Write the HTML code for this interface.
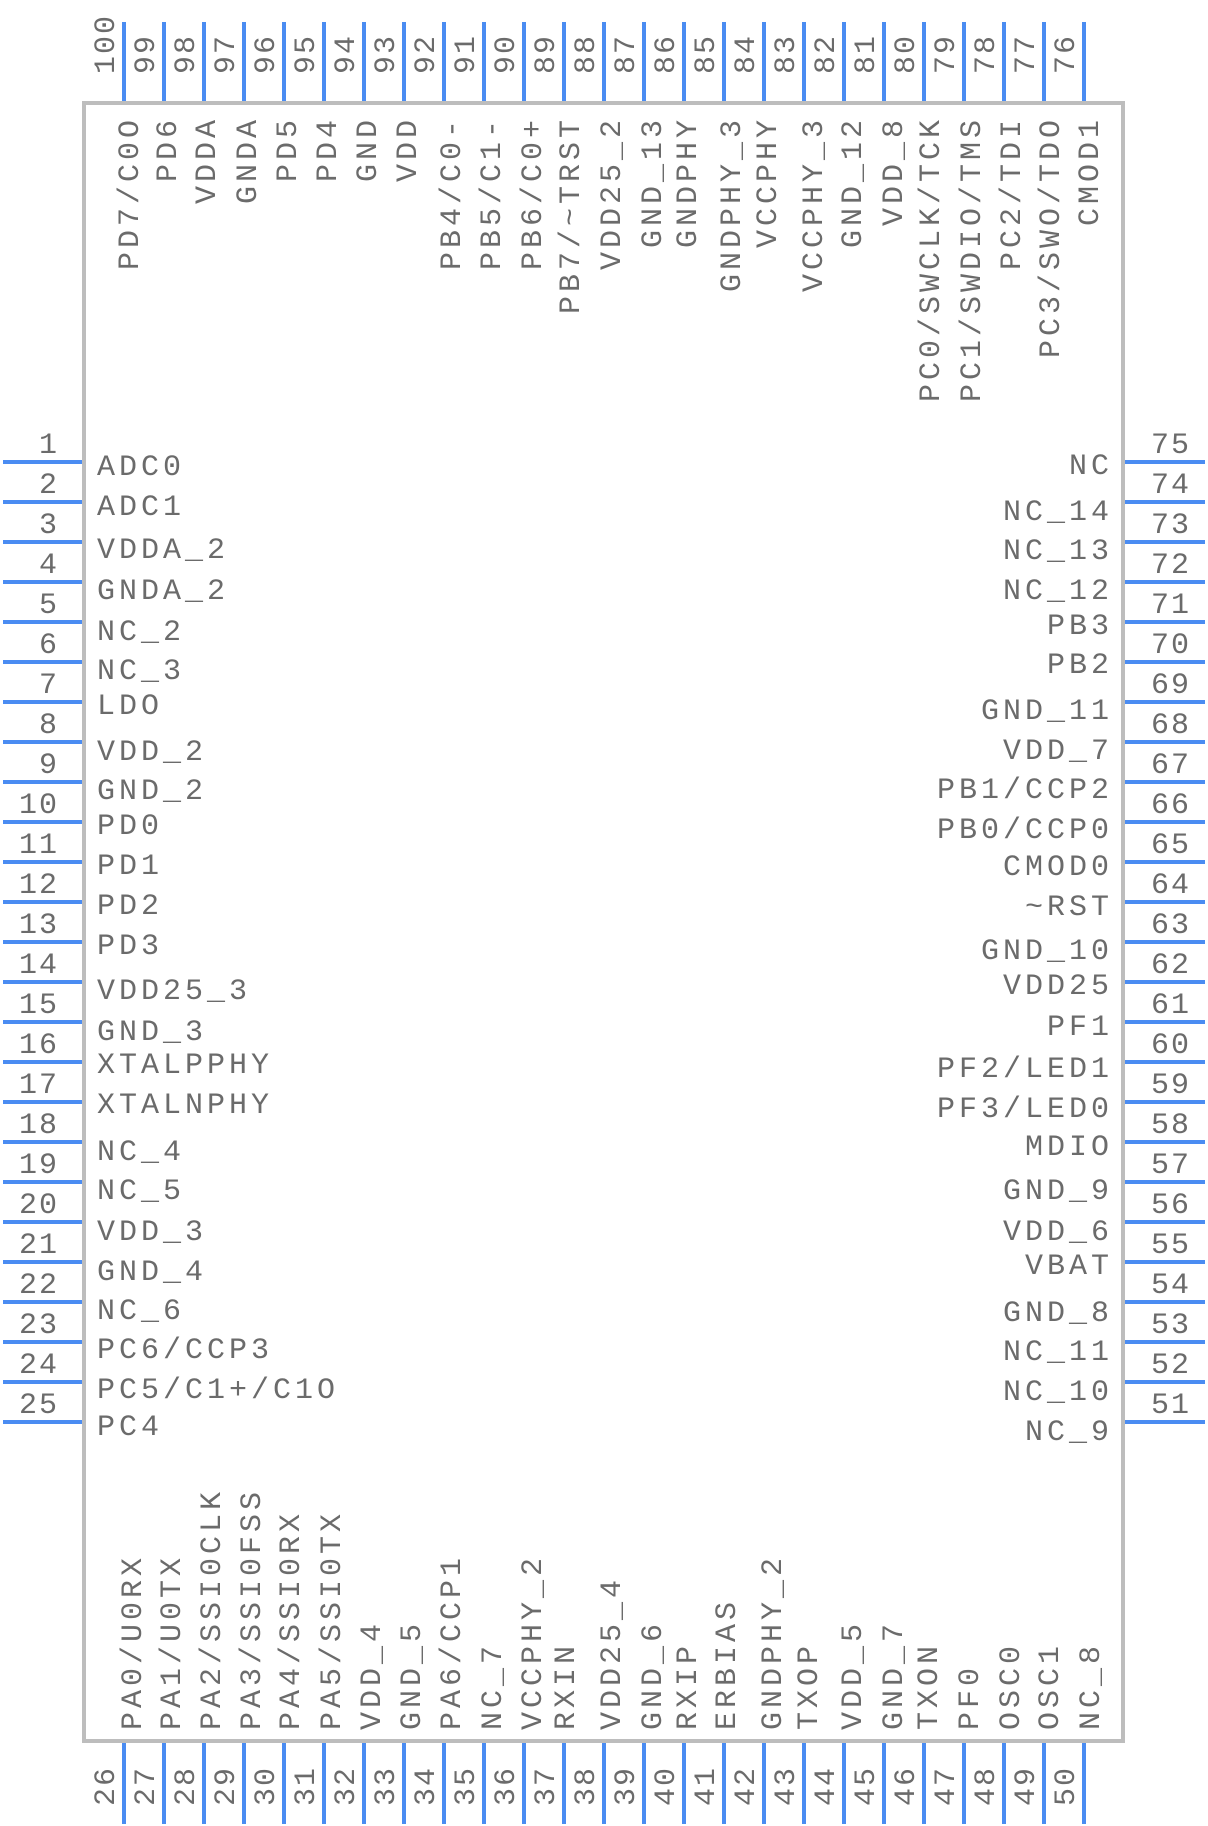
<!DOCTYPE html>
<html><head><meta charset="utf-8"><style>
html,body{margin:0;padding:0;background:#fff;}
svg{display:block}
text{font-family:"Liberation Mono",monospace;fill:#6b6b6b;font-size:30px;letter-spacing:4px}
.n{letter-spacing:2px}
</style></head><body>
<svg width="1208" height="1826" viewBox="0 0 1208 1826" xmlns="http://www.w3.org/2000/svg">
<g stroke="#4a8cf2" stroke-width="4">
<!-- top pins -->
<path d="M124 22V102M164 22V102M204 22V102M244 22V102M284 22V102M324 22V102M364 22V102M404 22V102M444 22V102M484 22V102M524 22V102M564 22V102M604 22V102M644 22V102M684 22V102M724 22V102M764 22V102M804 22V102M844 22V102M884 22V102M924 22V102M964 22V102M1004 22V102M1044 22V102M1084 22V102"/>
<!-- bottom pins -->
<path d="M124 1742V1824M164 1742V1824M204 1742V1824M244 1742V1824M284 1742V1824M324 1742V1824M364 1742V1824M404 1742V1824M444 1742V1824M484 1742V1824M524 1742V1824M564 1742V1824M604 1742V1824M644 1742V1824M684 1742V1824M724 1742V1824M764 1742V1824M804 1742V1824M844 1742V1824M884 1742V1824M924 1742V1824M964 1742V1824M1004 1742V1824M1044 1742V1824M1084 1742V1824"/>
<!-- left pins -->
<path d="M3 462H83M3 502H83M3 542H83M3 582H83M3 622H83M3 662H83M3 702H83M3 742H83M3 782H83M3 822H83M3 862H83M3 902H83M3 942H83M3 982H83M3 1022H83M3 1062H83M3 1102H83M3 1142H83M3 1182H83M3 1222H83M3 1262H83M3 1302H83M3 1342H83M3 1382H83M3 1422H83"/>
<!-- right pins -->
<path d="M1124 462H1205M1124 502H1205M1124 542H1205M1124 582H1205M1124 622H1205M1124 662H1205M1124 702H1205M1124 742H1205M1124 782H1205M1124 822H1205M1124 862H1205M1124 902H1205M1124 942H1205M1124 982H1205M1124 1022H1205M1124 1062H1205M1124 1102H1205M1124 1142H1205M1124 1182H1205M1124 1222H1205M1124 1262H1205M1124 1302H1205M1124 1342H1205M1124 1382H1205M1124 1422H1205"/>
</g>
<rect x="84" y="103" width="1039" height="1638" fill="none" stroke="#bdbdbd" stroke-width="4"/>

<!-- left numbers -->
<g class="n" text-anchor="middle">
<text class="n" x="49" y="453">1</text><text class="n" x="49" y="493">2</text><text class="n" x="49" y="533">3</text><text class="n" x="49" y="573">4</text><text class="n" x="49" y="613">5</text><text class="n" x="49" y="653">6</text><text class="n" x="49" y="693">7</text><text class="n" x="49" y="733">8</text><text class="n" x="49" y="773">9</text><text class="n" x="39" y="813">10</text><text class="n" x="39" y="853">11</text><text class="n" x="39" y="893">12</text><text class="n" x="39" y="933">13</text><text class="n" x="39" y="973">14</text><text class="n" x="39" y="1013">15</text><text class="n" x="39" y="1053">16</text><text class="n" x="39" y="1093">17</text><text class="n" x="39" y="1133">18</text><text class="n" x="39" y="1173">19</text><text class="n" x="39" y="1213">20</text><text class="n" x="39" y="1253">21</text><text class="n" x="39" y="1293">22</text><text class="n" x="39" y="1333">23</text><text class="n" x="39" y="1373">24</text><text class="n" x="39" y="1413">25</text>
</g>
<!-- right numbers -->
<g>
<text class="n" x="1151" y="453">75</text><text class="n" x="1151" y="493">74</text><text class="n" x="1151" y="533">73</text><text class="n" x="1151" y="573">72</text><text class="n" x="1151" y="613">71</text><text class="n" x="1151" y="653">70</text><text class="n" x="1151" y="693">69</text><text class="n" x="1151" y="733">68</text><text class="n" x="1151" y="773">67</text><text class="n" x="1151" y="813">66</text><text class="n" x="1151" y="853">65</text><text class="n" x="1151" y="893">64</text><text class="n" x="1151" y="933">63</text><text class="n" x="1151" y="973">62</text><text class="n" x="1151" y="1013">61</text><text class="n" x="1151" y="1053">60</text><text class="n" x="1151" y="1093">59</text><text class="n" x="1151" y="1133">58</text><text class="n" x="1151" y="1173">57</text><text class="n" x="1151" y="1213">56</text><text class="n" x="1151" y="1253">55</text><text class="n" x="1151" y="1293">54</text><text class="n" x="1151" y="1333">53</text><text class="n" x="1151" y="1373">52</text><text class="n" x="1151" y="1413">51</text>
</g>
<!-- left labels -->
<g>
<text x="97" y="475">ADC0</text><text x="97" y="515">ADC1</text><text x="97" y="558">VDDA_2</text><text x="97" y="599">GNDA_2</text><text x="97" y="640">NC_2</text><text x="97" y="679">NC_3</text><text x="97" y="714">LDO</text><text x="97" y="760">VDD_2</text><text x="97" y="799">GND_2</text><text x="97" y="834">PD0</text><text x="97" y="874">PD1</text><text x="97" y="914">PD2</text><text x="97" y="954">PD3</text><text x="97" y="999">VDD25_3</text><text x="97" y="1040">GND_3</text><text x="97" y="1073">XTALPPHY</text><text x="97" y="1113">XTALNPHY</text><text x="97" y="1160">NC_4</text><text x="97" y="1199">NC_5</text><text x="97" y="1240">VDD_3</text><text x="97" y="1280">GND_4</text><text x="97" y="1319">NC_6</text><text x="97" y="1358">PC6/CCP3</text><text x="97" y="1398">PC5/C1+/C1O</text><text x="97" y="1435">PC4</text>
</g>
<!-- right labels -->
<g text-anchor="end">
<text x="1113" y="474">NC</text><text x="1113" y="520">NC_14</text><text x="1113" y="559">NC_13</text><text x="1113" y="599">NC_12</text><text x="1113" y="634">PB3</text><text x="1113" y="673">PB2</text><text x="1113" y="719">GND_11</text><text x="1113" y="759">VDD_7</text><text x="1113" y="798">PB1/CCP2</text><text x="1113" y="838">PB0/CCP0</text><text x="1113" y="875">CMOD0</text><text x="1113" y="915">~RST</text><text x="1113" y="959">GND_10</text><text x="1113" y="994">VDD25</text><text x="1113" y="1035">PF1</text><text x="1113" y="1077">PF2/LED1</text><text x="1113" y="1117">PF3/LED0</text><text x="1113" y="1155">MDIO</text><text x="1113" y="1199">GND_9</text><text x="1113" y="1240">VDD_6</text><text x="1113" y="1274">VBAT</text><text x="1113" y="1321">GND_8</text><text x="1113" y="1360">NC_11</text><text x="1113" y="1400">NC_10</text><text x="1113" y="1440">NC_9</text>
</g>
<!-- top labels -->
<g text-anchor="end">
<text transform="translate(138,116) rotate(-90)">PD7/C0O</text>
<text transform="translate(176,116) rotate(-90)">PD6</text>
<text transform="translate(215,116) rotate(-90)">VDDA</text>
<text transform="translate(256,116) rotate(-90)">GNDA</text>
<text transform="translate(296,116) rotate(-90)">PD5</text>
<text transform="translate(336,116) rotate(-90)">PD4</text>
<text transform="translate(376,116) rotate(-90)">GND</text>
<text transform="translate(416,116) rotate(-90)">VDD</text>
<text transform="translate(460,116) rotate(-90)">PB4/C0-</text>
<text transform="translate(500,116) rotate(-90)">PB5/C1-</text>
<text transform="translate(541,116) rotate(-90)">PB6/C0+</text>
<text transform="translate(579,116) rotate(-90)">PB7/~TRST</text>
<text transform="translate(620,116) rotate(-90)">VDD25_2</text>
<text transform="translate(661,116) rotate(-90)">GND_13</text>
<text transform="translate(696,116) rotate(-90)">GNDPHY</text>
<text transform="translate(740,116) rotate(-90)">GNDPHY_3</text>
<text transform="translate(776,116) rotate(-90)">VCCPHY</text>
<text transform="translate(822,116) rotate(-90)">VCCPHY_3</text>
<text transform="translate(861,116) rotate(-90)">GND_12</text>
<text transform="translate(902,116) rotate(-90)">VDD_8</text>
<text transform="translate(939,116) rotate(-90)">PC0/SWCLK/TCK</text>
<text transform="translate(980,116) rotate(-90)">PC1/SWDIO/TMS</text>
<text transform="translate(1020,116) rotate(-90)">PC2/TDI</text>
<text transform="translate(1059,116) rotate(-90)">PC3/SWO/TDO</text>
<text transform="translate(1098,116) rotate(-90)">CMOD1</text>
</g>
<!-- bottom labels -->
<g>
<text transform="translate(141,1730) rotate(-90)">PA0/U0RX</text>
<text transform="translate(180,1730) rotate(-90)">PA1/U0TX</text>
<text transform="translate(220,1730) rotate(-90)">PA2/SSI0CLK</text>
<text transform="translate(260,1730) rotate(-90)">PA3/SSI0FSS</text>
<text transform="translate(299,1730) rotate(-90)">PA4/SSI0RX</text>
<text transform="translate(340,1730) rotate(-90)">PA5/SSI0TX</text>
<text transform="translate(380,1730) rotate(-90)">VDD_4</text>
<text transform="translate(420,1730) rotate(-90)">GND_5</text>
<text transform="translate(460,1730) rotate(-90)">PA6/CCP1</text>
<text transform="translate(501,1730) rotate(-90)">NC_7</text>
<text transform="translate(541,1730) rotate(-90)">VCCPHY_2</text>
<text transform="translate(574,1730) rotate(-90)">RXIN</text>
<text transform="translate(620,1730) rotate(-90)">VDD25_4</text>
<text transform="translate(661,1730) rotate(-90)">GND_6</text>
<text transform="translate(696,1730) rotate(-90)">RXIP</text>
<text transform="translate(735,1730) rotate(-90)">ERBIAS</text>
<text transform="translate(781,1730) rotate(-90)">GNDPHY_2</text>
<text transform="translate(817,1730) rotate(-90)">TXOP</text>
<text transform="translate(861,1730) rotate(-90)">VDD_5</text>
<text transform="translate(902,1730) rotate(-90)">GND_7</text>
<text transform="translate(937,1730) rotate(-90)">TXON</text>
<text transform="translate(978,1730) rotate(-90)">PF0</text>
<text transform="translate(1019,1730) rotate(-90)">OSC0</text>
<text transform="translate(1058,1730) rotate(-90)">OSC1</text>
<text transform="translate(1099,1730) rotate(-90)">NC_8</text>
</g>
<!-- top numbers -->
<g>
<text class="n" transform="translate(114,74) rotate(-90)">100</text>
<text class="n" transform="translate(154,74) rotate(-90)">99</text>
<text class="n" transform="translate(194,74) rotate(-90)">98</text>
<text class="n" transform="translate(234,74) rotate(-90)">97</text>
<text class="n" transform="translate(274,74) rotate(-90)">96</text>
<text class="n" transform="translate(314,74) rotate(-90)">95</text>
<text class="n" transform="translate(354,74) rotate(-90)">94</text>
<text class="n" transform="translate(394,74) rotate(-90)">93</text>
<text class="n" transform="translate(434,74) rotate(-90)">92</text>
<text class="n" transform="translate(474,74) rotate(-90)">91</text>
<text class="n" transform="translate(514,74) rotate(-90)">90</text>
<text class="n" transform="translate(554,74) rotate(-90)">89</text>
<text class="n" transform="translate(594,74) rotate(-90)">88</text>
<text class="n" transform="translate(634,74) rotate(-90)">87</text>
<text class="n" transform="translate(674,74) rotate(-90)">86</text>
<text class="n" transform="translate(714,74) rotate(-90)">85</text>
<text class="n" transform="translate(754,74) rotate(-90)">84</text>
<text class="n" transform="translate(794,74) rotate(-90)">83</text>
<text class="n" transform="translate(834,74) rotate(-90)">82</text>
<text class="n" transform="translate(874,74) rotate(-90)">81</text>
<text class="n" transform="translate(914,74) rotate(-90)">80</text>
<text class="n" transform="translate(954,74) rotate(-90)">79</text>
<text class="n" transform="translate(994,74) rotate(-90)">78</text>
<text class="n" transform="translate(1034,74) rotate(-90)">77</text>
<text class="n" transform="translate(1074,74) rotate(-90)">76</text>
</g>
<!-- bottom numbers -->
<g>
<text class="n" transform="translate(114,1806) rotate(-90)">26</text>
<text class="n" transform="translate(154,1806) rotate(-90)">27</text>
<text class="n" transform="translate(194,1806) rotate(-90)">28</text>
<text class="n" transform="translate(234,1806) rotate(-90)">29</text>
<text class="n" transform="translate(274,1806) rotate(-90)">30</text>
<text class="n" transform="translate(314,1806) rotate(-90)">31</text>
<text class="n" transform="translate(354,1806) rotate(-90)">32</text>
<text class="n" transform="translate(394,1806) rotate(-90)">33</text>
<text class="n" transform="translate(434,1806) rotate(-90)">34</text>
<text class="n" transform="translate(474,1806) rotate(-90)">35</text>
<text class="n" transform="translate(514,1806) rotate(-90)">36</text>
<text class="n" transform="translate(554,1806) rotate(-90)">37</text>
<text class="n" transform="translate(594,1806) rotate(-90)">38</text>
<text class="n" transform="translate(634,1806) rotate(-90)">39</text>
<text class="n" transform="translate(674,1806) rotate(-90)">40</text>
<text class="n" transform="translate(714,1806) rotate(-90)">41</text>
<text class="n" transform="translate(754,1806) rotate(-90)">42</text>
<text class="n" transform="translate(794,1806) rotate(-90)">43</text>
<text class="n" transform="translate(834,1806) rotate(-90)">44</text>
<text class="n" transform="translate(874,1806) rotate(-90)">45</text>
<text class="n" transform="translate(914,1806) rotate(-90)">46</text>
<text class="n" transform="translate(954,1806) rotate(-90)">47</text>
<text class="n" transform="translate(994,1806) rotate(-90)">48</text>
<text class="n" transform="translate(1034,1806) rotate(-90)">49</text>
<text class="n" transform="translate(1074,1806) rotate(-90)">50</text>
</g>
</svg>
</body></html>
